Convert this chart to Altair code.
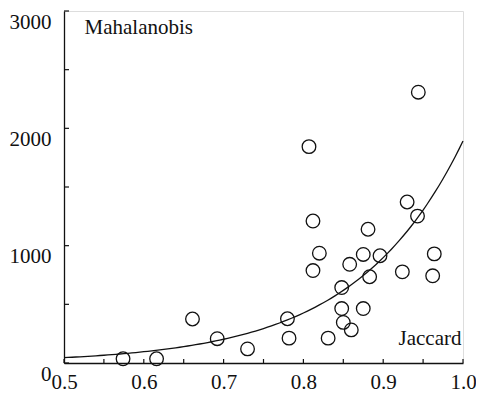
import altair as alt
import pandas as pd

# scatter data
jaccard = [0.574, 0.616, 0.661, 0.692, 0.730, 0.780, 0.782, 0.807, 0.812, 0.812,
           0.820, 0.831, 0.848, 0.848, 0.850, 0.860, 0.858, 0.875, 0.875, 0.881,
           0.883, 0.896, 0.924, 0.930, 0.943, 0.944, 0.964, 0.962]
mahalanobis = [36, 36, 375, 207, 120, 377, 212, 1844, 1210, 788,
               936, 212, 643, 464, 346, 282, 841, 925, 464, 1140,
               735, 914, 777, 1372, 1252, 2308, 930, 743]

# exponential fit y = A * exp(B * x), parameters
FIT_A = 1.1
FIT_B = 7.45

x_ticks = [0.5, 0.55, 0.6, 0.65, 0.7, 0.75, 0.8, 0.85, 0.9, 0.95, 1.0]
y_ticks = [0, 500, 1000, 1500, 2000, 2500, 3000]
x_labels = [0.5, 0.6, 0.7, 0.8, 0.9, 1.0]
y_labels = [0, 1000, 2000, 3000]

FONT = "Liberation Serif"
INK = "#111111"
W, H = 399, 352

df = pd.DataFrame({"jaccard": jaccard, "mahal": mahalanobis})
xt = pd.DataFrame({"jaccard": x_ticks})
yt = pd.DataFrame({"mahal": y_ticks})

xscale = alt.Scale(domain=[0.5, 1.0], nice=False, zero=False)
yscale = alt.Scale(domain=[0, 3000], nice=False)

x_axis = alt.Axis(values=x_labels, format=".1f", ticks=False, tickSize=0, grid=False,
                  labelFlush=False, labelOverlap=False, labelPadding=8,
                  labelFont=FONT, labelFontSize=21, labelColor=INK, labelFontWeight="normal",
                  domainColor=INK, domainWidth=1.3,
                  title="Jaccard", titleFont=FONT, titleFontSize=21, titleFontWeight="normal",
                  titleColor=INK, titleX=W - 2, titleY=-25, titleAlign="right",
                  titleBaseline="middle", titleAngle=0)
y_axis = alt.Axis(values=y_labels, format="d", ticks=False, tickSize=0, grid=False,
                  labelFlush=False, labelOverlap=False, labelPadding=13, labelOffset=11,
                  labelFont=FONT, labelFontSize=21, labelColor=INK, labelFontWeight="normal",
                  domainColor=INK, domainWidth=1.3,
                  title="Mahalanobis", titleFont=FONT, titleFontSize=21, titleFontWeight="normal",
                  titleColor=INK, titleX=20, titleY=16, titleAlign="left",
                  titleBaseline="middle", titleAngle=0)

X = alt.X("jaccard:Q", scale=xscale, axis=x_axis)
Y = alt.Y("mahal:Q", scale=yscale, axis=y_axis)

points = alt.Chart(df).mark_point(shape="circle", size=185, filled=False, stroke=INK,
                                  strokeWidth=1.3, opacity=1).encode(x=X, y=Y)

curve = alt.Chart(alt.sequence(0.5, 1.0001, 0.005, as_="jaccard")).transform_calculate(
    mahal=f"{FIT_A} * exp({FIT_B} * datum.jaccard)"
).mark_line(color=INK, strokeWidth=1.3).encode(x=X, y=Y)

xtick_rules = alt.Chart(xt).mark_rule(color=INK, strokeWidth=1.2).encode(
    x=X,
    y=alt.value(H),
    y2=alt.value(H - 4),
)

ytick_rules = alt.Chart(yt).mark_rule(color=INK, strokeWidth=1.2).encode(
    y=Y,
    x=alt.value(0),
    x2=alt.value(5),
)

chart = alt.layer(points, curve, xtick_rules, ytick_rules).properties(
    width=W, height=H,
    padding={"left": 56, "top": 3, "right": 13, "bottom": 29},
    autosize="none",
    background="white",
).configure_view(strokeWidth=0).configure_axis(
    labelFont=FONT, titleFont=FONT
).configure(font=FONT)

chart.save("out.html", embed_options={"renderer": "svg", "actions": False})
